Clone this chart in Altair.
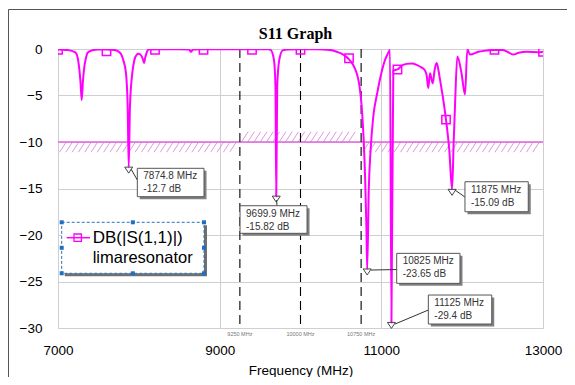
import altair as alt
import pandas as pd

# ---------------- data ----------------
freq_mhz = [7000, 7100, 7170, 7219, 7245, 7260, 7278, 7293, 7308, 7326,
            7345, 7367, 7420, 7500, 7600, 7700, 7767, 7808, 7841, 7862,
            7875, 7890, 7919, 7944, 7975, 7995, 8030, 8050, 8064, 8080,
            8100, 8120, 8300, 8500, 8620, 8645, 8670, 8800, 9000, 9200,
            9400, 9600, 9631, 9672, 9690, 9700, 9712, 9737, 9780, 9850,
            10000, 10200, 10365, 10450, 10530, 10588, 10650, 10695, 10730, 10757,
            10780, 10800, 10815, 10825, 10845, 10867, 10900, 10950, 11000, 11045,
            11080, 11107, 11125, 11148, 11200, 11250, 11314, 11380, 11437, 11500,
            11540, 11560, 11581, 11602, 11620, 11636, 11660, 11685, 11705, 11726,
            11767, 11800, 11841, 11875, 11895, 11911, 11940, 11990, 12035, 12064,
            12097, 12200, 12300, 12394, 12500, 12560, 12630, 12700, 12800, 12963,
            13000]
s11_db = [-0.05, -0.1, -0.2, -0.4, -1.0, -1.9, -3.5, -5.5, -3.5, -1.9,
          -1.0, -0.4, -0.15, -0.05, -0.05, -0.1, -0.4, -1.2, -2.6, -6.2,
          -12.7, -6.2, -2.6, -1.2, -0.6, -0.5, -0.7, -1.1, -1.5, -0.9,
          -0.3, -0.05, -0.02, -0.02, -0.05, -0.3, -0.05, -0.02, -0.02, -0.02,
          -0.02, -0.03, -0.1, -1.2, -4.0, -15.82, -4.0, -1.2, -0.15, -0.05,
          -0.03, -0.03, -0.1, -0.3, -0.6, -1.0, -1.7, -2.6, -4.0, -6.2,
          -9.5, -14.0, -19.0, -23.65, -15.0, -10.9, -7.3, -4.7, -2.6, -1.2,
          -0.5, -0.1, -29.4, -2.3, -2.2, -1.8, -1.6, -1.55, -1.7, -2.0,
          -2.3, -2.8, -4.2, -2.6, -3.2, -3.7, -2.2, -1.5, -2.2, -3.3,
          -5.5, -7.6, -10.9, -15.09, -10.0, -6.2, -0.8, -2.5, -4.9, -0.05,
          -0.6, -0.3, -0.15, -0.1, -0.1, -0.3, -0.6, -0.4, -0.3, -0.35,
          -0.3]
assert len(freq_mhz) == len(s11_db)

sym_freq = [7000, 7600, 8200, 8800, 9400, 10000, 10600, 11200, 11800, 12400, 13000]
sym_db = [-0.1, -0.25, -0.1, -0.1, -0.1, -0.1, -1.0, -2.2, -7.6, -0.1, -0.3]

mk_freq = [7874.8, 9699.9, 10825, 11125, 11875]
mk_db = [-12.7, -15.82, -23.65, -29.4, -15.09]
mk_text1 = ["7874.8 MHz", "9699.9 MHz", "10825 MHz", "11125 MHz", "11875 MHz"]
mk_text2 = ["-12.7 dB", "-15.82 dB", "-23.65 dB", "-29.4 dB", "-15.09 dB"]

goal_start = [7000, 9250, 10750]
goal_end = [9250, 10750, 13000]
goal_db = [-10, -10, -10]
goal_side = [-1, 1, -1]          # hatch lies below (-1) or above (+1) the goal line

span_freq = [9250, 10000, 10750]
span_text = ["9250 MHz", "10000 MHz", "10750 MHz"]

x_ticks = [7000, 9000, 11000, 13000]
y_ticks = [0, -5, -10, -15, -20, -25, -30]

legend_lines = ["DB(|S(1,1)|)", "limaresonator"]
title_text = "S11 Graph"
x_title = "Frequency (MHz)"

# ---------------- layout / style ----------------
W, H = 485, 279
X0, X1 = 7000, 13000
Y0, Y1 = -30, 0
MHZ_PX = (X1 - X0) / W
DB_PX = (Y1 - Y0) / H
MAG = "#ff00ff"
FONT = "Liberation Sans"

# box: dx, dy, w, h ; leader start sx, sy ; leader end ex, ey  (px, relative to marker)
box_layout = [
    (8.6, 1.2, 66.7, 28.4, 2.3, 1.9, 8.6, 12.9),
    (-36.2, 9.6, 67.0, 27.6, 0.3, 4.0, 0.8, 9.6),
    (29.5, -15.6, 63.3, 30.0, 3.8, 1.1, 29.5, 0.6),
    (36.9, -27.4, 63.4, 29.0, 3.6, 1.6, 36.9, -12.4),
    (12.9, -7.6, 63.3, 30.0, 2.9, 0.7, 12.9, 7.7),
]
SH = 2.5  # shadow offset px

xscale = alt.Scale(domain=[X0, X1], nice=False, zero=False)
yscale = alt.Scale(domain=[Y0, Y1], nice=False, zero=False)
xaxis = alt.Axis(values=x_ticks, title=x_title, grid=True, gridColor="#cfcfcf",
                 ticks=False, domain=False, format="d", labelFont=FONT,
                 labelFontSize=13.5, labelColor="black", labelPadding=15,
                 labelFlush=False, titleFont=FONT, titleFontSize=13.5,
                 titleFontWeight="normal", titleColor="black", titlePadding=7)
yaxis = alt.Axis(values=y_ticks, grid=True, gridColor="#cfcfcf", ticks=False,
                 domain=False, format="d", labelFont=FONT, labelFontSize=13.5,
                 labelColor="black", labelPadding=16, labelFlush=False)


def X(f):
    return alt.X(f, type="quantitative", scale=xscale, axis=xaxis)


def Y(f):
    return alt.Y(f, type="quantitative", scale=yscale, axis=yaxis, title=None)


curve = pd.DataFrame({"f": freq_mhz, "db": s11_db})
syms = pd.DataFrame({"f": sym_freq, "db": sym_db})

goals = pd.DataFrame({"s": goal_start, "e": goal_end, "g": goal_db})

# hatch pattern of the goal bands
hatch_rows = []
STEP = 6.3 * MHZ_PX
DX = 6.7 * MHZ_PX
BAND = 1.1
for s, e, g, side in zip(goal_start, goal_end, goal_db, goal_side):
    lo, hi = min(g, g + side * BAND), max(g, g + side * BAND)
    x = s + 1.5 * MHZ_PX
    while x + DX <= e:
        hatch_rows.append({"x0": x, "y0": lo, "x1": x + DX, "y1": hi})
        x += STEP
hatch = pd.DataFrame(hatch_rows)

spans = pd.DataFrame({"f": span_freq, "t": span_text})

rows = []
for f, d, t1, t2, (dx, dy, w, h, sx, sy, ex, ey) in zip(mk_freq, mk_db, mk_text1, mk_text2, box_layout):
    rows.append({
        "f": f, "db": d, "t1": t1, "t2": t2,
        "bx0": f + dx * MHZ_PX, "bx1": f + (dx + w) * MHZ_PX,
        "by0": d - dy * DB_PX, "by1": d - (dy + h) * DB_PX,
        "sx0": f + (dx + SH) * MHZ_PX, "sx1": f + (dx + w + SH) * MHZ_PX,
        "sy0": d - (dy + SH) * DB_PX, "sy1": d - (dy + h + SH) * DB_PX,
        "tx": f + (dx + 6) * MHZ_PX,
        "ty1": d - (dy + 8) * DB_PX, "ty2": d - (dy + 21) * DB_PX,
        "lx0": f + sx * MHZ_PX, "ly0": d - sy * DB_PX,
        "lx1": f + ex * MHZ_PX, "ly1": d - ey * DB_PX,
    })
marks = pd.DataFrame(rows)

one = pd.DataFrame({"k": [0]})

# ---------------- layers ----------------
hatch_layer = alt.Chart(hatch).mark_rule(color="#dc9adc", strokeWidth=1).encode(
    x=X("x0"), y=Y("y0"), x2="x1", y2="y1")
goal_layer = alt.Chart(goals).mark_rule(color="#e066e0", strokeWidth=1.5).encode(
    x=X("s"), x2="e", y=Y("g"))
span_layer = alt.Chart(spans).mark_rule(color="black", strokeWidth=1.1, strokeDash=[9, 5]).encode(
    x=X("f"), y=alt.value(0), y2=alt.value(H))
span_text_layer = alt.Chart(spans).mark_text(fontSize=5.5, font=FONT, color="#777777",
                                             baseline="middle").encode(
    x=X("f"), y=alt.value(H + 6), text="t:N")
line_layer = alt.Chart(curve).mark_line(color=MAG, strokeWidth=2, clip=True,
                                        interpolate="monotone").encode(
    x=X("f"), y=Y("db"), order="f:Q")
sym_layer = alt.Chart(syms).mark_point(shape="square", filled=False, color=MAG, size=70,
                                       strokeWidth=1.5, clip=True, opacity=1).encode(
    x=X("f"), y=Y("db"))
leader_layer = alt.Chart(marks).mark_rule(color="#333333", strokeWidth=1).encode(
    x=X("lx0"), y=Y("ly0"), x2="lx1", y2="ly1")
shadow_layer = alt.Chart(marks).mark_rect(fill="#808080").encode(
    x=X("sx0"), x2="sx1", y=Y("sy0"), y2="sy1")
box_layer = alt.Chart(marks).mark_rect(fill="white", stroke="#555555", strokeWidth=1).encode(
    x=X("bx0"), x2="bx1", y=Y("by0"), y2="by1")
t1_layer = alt.Chart(marks).mark_text(align="left", baseline="middle", font=FONT,
                                      fontSize=10, color="#333333").encode(
    x=X("tx"), y=Y("ty1"), text="t1:N")
t2_layer = alt.Chart(marks).mark_text(align="left", baseline="middle", font=FONT,
                                      fontSize=10, color="#333333").encode(
    x=X("tx"), y=Y("ty2"), text="t2:N")
tri_layer = alt.Chart(marks).mark_point(shape="M-1,0L1,0L0,1.5Z", filled=False,
                                        color="#444444", size=64, strokeWidth=1,
                                        opacity=1).encode(
    x=X("f"), y=Y("db"))

# ---- legend (drawn inside plot) ----
LX0, LX1, LY0, LY1 = 3.7, 146, 173.3, 224.3
leg_shadow = alt.Chart(one).mark_rect(fill="#707070").encode(
    x=alt.value(LX0 + 3), x2=alt.value(LX1 + 3), y=alt.value(LY0 + 3), y2=alt.value(LY1 + 3))
leg_box = alt.Chart(one).mark_rect(fill="white", stroke="#2a70b8", strokeWidth=1,
                                   strokeDash=[3, 2]).encode(
    x=alt.value(LX0), x2=alt.value(LX1), y=alt.value(LY0), y2=alt.value(LY1))
hx = [LX0, (LX0 + LX1) / 2, LX1, LX0, LX1, LX0, (LX0 + LX1) / 2, LX1]
hy = [LY0, LY0, LY0, (LY0 + LY1) / 2, (LY0 + LY1) / 2, LY1, LY1, LY1]
handles = pd.DataFrame({"px": hx, "py": hy})
leg_handles = alt.Chart(handles).mark_square(color="#1f6fc0", size=16, opacity=1).encode(
    x=alt.X("px:Q", scale=None, axis=None), y=alt.Y("py:Q", scale=None, axis=None))
leg_line = alt.Chart(one).mark_rule(color=MAG, strokeWidth=1.5).encode(
    x=alt.value(8.7), x2=alt.value(32), y=alt.value(188.7))
leg_sym = alt.Chart(one).mark_point(shape="square", filled=False, color=MAG, size=55,
                                    strokeWidth=1.3, opacity=1).encode(
    x=alt.value(19.7), y=alt.value(188.7))
leg_t1 = alt.Chart(one).mark_text(align="left", baseline="middle", font=FONT,
                                  fontSize=17, color="black", text=legend_lines[0]).encode(
    x=alt.value(34.7), y=alt.value(188.7))
leg_t2 = alt.Chart(one).mark_text(align="left", baseline="middle", font=FONT,
                                  fontSize=16.5, color="black", text=legend_lines[1]).encode(
    x=alt.value(34.7), y=alt.value(209.3))

# chart title (drawn as text above the plot)
title_layer = alt.Chart(one).mark_text(align="center", baseline="alphabetic",
                                       font="Liberation Serif", fontSize=16,
                                       fontWeight="bold", color="black",
                                       text=title_text).encode(
    x=alt.value(W / 2 - 5), y=alt.value(-10))

# outer frame of the picture
frame = alt.Chart(one).mark_rect(fill="transparent", stroke="#555555", strokeWidth=1).encode(
    x=alt.value(-49.5), x2=alt.value(700), y=alt.value(-39.5), y2=alt.value(500))

chart = alt.layer(
    frame, hatch_layer, goal_layer, span_layer, span_text_layer, line_layer, sym_layer,
    leader_layer, shadow_layer, box_layer, t1_layer, t2_layer, tri_layer,
    leg_shadow, leg_box, leg_handles, leg_line, leg_sym, leg_t1, leg_t2, title_layer,
).properties(
    width=W, height=H,
    padding={"left": 50, "top": 41, "right": 24, "bottom": 49},
    autosize=alt.AutoSizeParams(type="none"),
).configure_view(stroke="black", strokeWidth=1.5).configure(background="white")

chart.save("out.html", embed_options={"renderer": "svg", "actions": False})
